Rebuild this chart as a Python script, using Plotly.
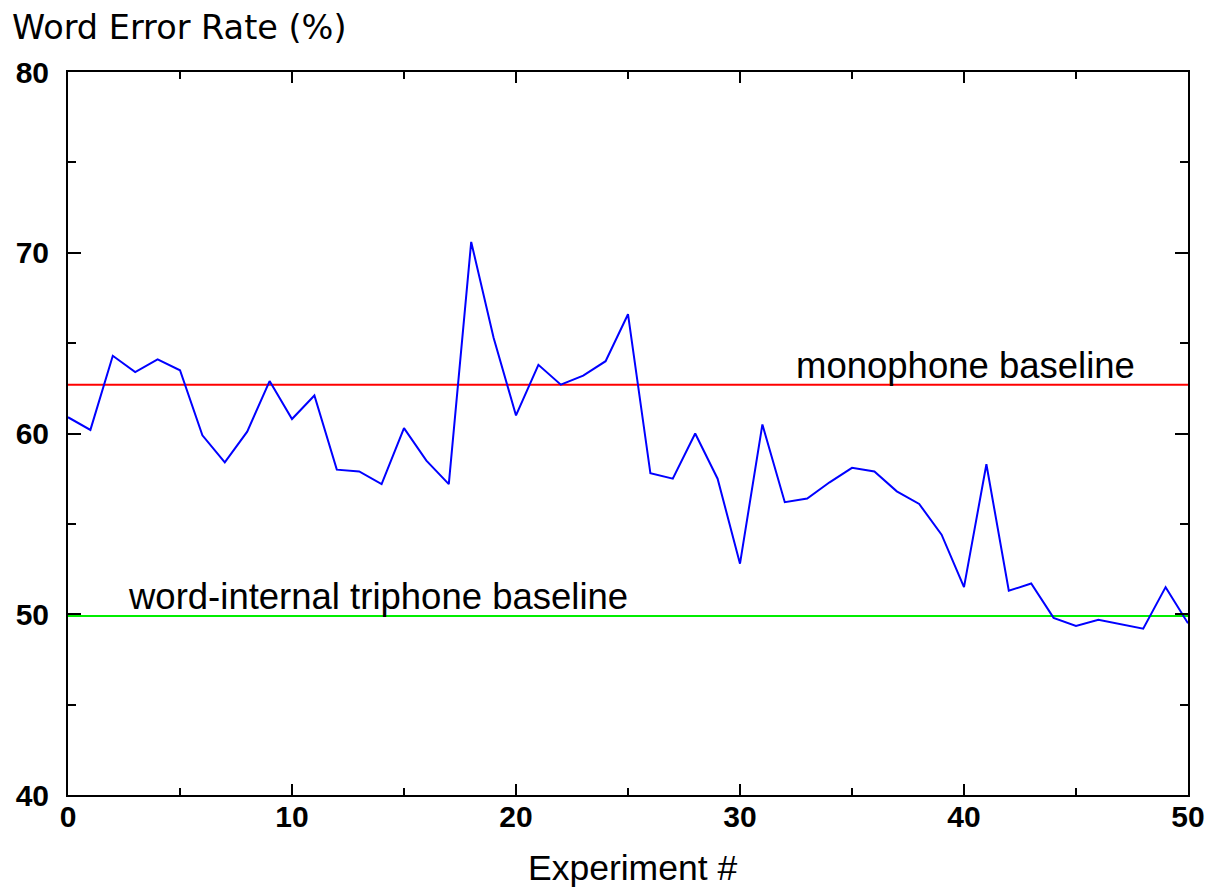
import plotly.graph_objects as go

experiment = list(range(51))
wer = [60.9, 60.2, 64.3, 63.4, 64.1, 63.5, 59.9, 58.4, 60.1, 62.9,
       60.8, 62.1, 58.0, 57.9, 57.2, 60.3, 58.5, 57.2, 70.6, 65.3,
       61.0, 63.8, 62.7, 63.2, 64.0, 66.6, 57.8, 57.5, 60.0, 57.5,
       52.8, 60.5, 56.2, 56.4, 57.3, 58.1, 57.9, 56.8, 56.1, 54.4,
       51.5, 58.3, 51.3, 51.7, 49.8, 49.35, 49.7, 49.45, 49.2, 51.5,
       49.5]
monophone_baseline = 62.7
triphone_baseline = 49.9
x_ticks = [0, 10, 20, 30, 40, 50]
y_ticks = [40, 50, 60, 70, 80]

FONT = "Liberation Sans, Arial, sans-serif"
TICKFONT = "Liberation Sans, Arial, sans-serif"

fig = go.Figure()
fig.add_trace(go.Scatter(x=[0, 50], y=[monophone_baseline] * 2, mode="lines",
                         line=dict(color="#ff0000", width=2), showlegend=False,
                         hoverinfo="skip"))
fig.add_trace(go.Scatter(x=[0, 50], y=[triphone_baseline] * 2, mode="lines",
                         line=dict(color="#00ee00", width=2), showlegend=False,
                         hoverinfo="skip"))
fig.add_trace(go.Scatter(x=experiment, y=wer, mode="lines",
                         line=dict(color="#0000ff", width=2), showlegend=False))

fig.add_annotation(x=32.4, y=monophone_baseline, xref="x", yref="y",
                   text="monophone baseline", showarrow=False,
                   xanchor="left", yanchor="bottom", yshift=-3,
                   font=dict(family=FONT, size=36.5, color="black"))
fig.add_annotation(x=2.6, y=triphone_baseline, xref="x", yref="y",
                   text="word-internal triphone baseline", showarrow=False,
                   xanchor="left", yanchor="bottom", yshift=-3,
                   font=dict(family=FONT, size=36.5, color="black"))
fig.add_annotation(x=0.504, y=-0.101, xref="paper", yref="paper",
                   text="Experiment #", showarrow=False,
                   xanchor="center", yanchor="middle",
                   font=dict(family=FONT, size=35.5, color="black"))

# page body has an 8px offset; margins compensate so the plot area sits at
# x 68..1188, y 72..795 in the window
fig.update_layout(
    width=1219, height=890,
    margin=dict(l=60, r=39, t=64, b=103),
    paper_bgcolor="white", plot_bgcolor="white",
    title=dict(text="Word Error Rate (%)", xref="container", yref="container",
               x=4 / 1219, xanchor="left", y=1 - 19 / 890, yanchor="middle",
               font=dict(family="DejaVu Sans, sans-serif", size=33.5, color="black")),
    font=dict(family=FONT, color="black"),
)
fig.update_xaxes(range=[0, 50], tickvals=x_ticks, ticktext=[str(v) for v in x_ticks],
                 ticks="inside", ticklen=11, tickwidth=2, tickcolor="black",
                 minor=dict(dtick=5, ticks="inside", ticklen=7, tickwidth=2, tickcolor="black"),
                 showline=True, linecolor="black", linewidth=2, mirror="ticks",
                 showgrid=False, zeroline=False, ticklabelstandoff=-6, automargin=False,
                 tickfont=dict(family=TICKFONT, size=30, color="black", weight="bold"))
fig.update_yaxes(range=[40, 80], tickvals=y_ticks, ticktext=[str(v) for v in y_ticks],
                 ticks="inside", ticklen=13, tickwidth=2, tickcolor="black",
                 minor=dict(dtick=5, ticks="inside", ticklen=8, tickwidth=2, tickcolor="black"),
                 showline=True, linecolor="black", linewidth=2, mirror="ticks",
                 showgrid=False, zeroline=False, ticklabelstandoff=11, automargin=False,
                 tickfont=dict(family=TICKFONT, size=30, color="black", weight="bold"))

fig.write_html("out.html")
